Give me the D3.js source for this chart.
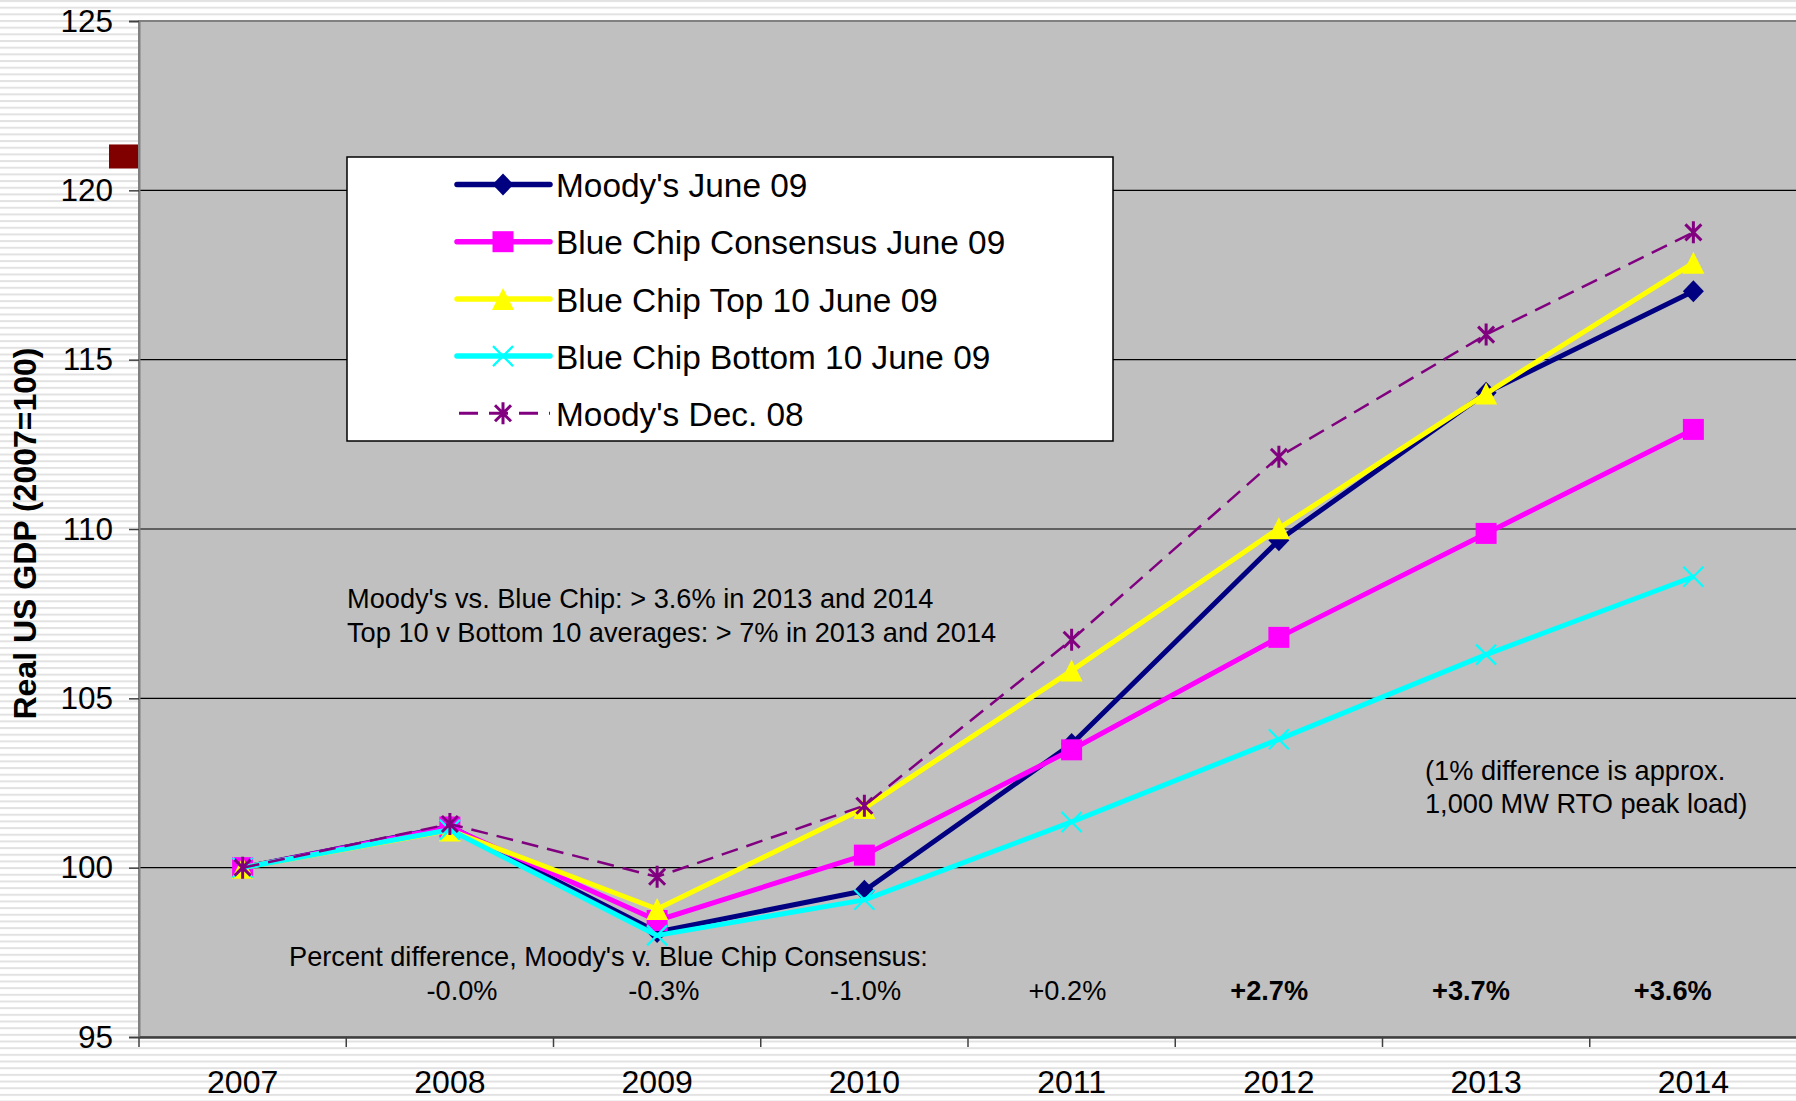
<!DOCTYPE html>
<html>
<head>
<meta charset="utf-8">
<script src="https://cdn.jsdelivr.net/npm/d3@7"></script>
<style>
  body { margin: 0; background: #fff; }
  svg { display: block; font-family: "Liberation Sans", Arial, sans-serif; }
</style>
</head>
<body>
<script>
// chart data
const years = ['2007', '2008', '2009', '2010', '2011', '2012', '2013', '2014']
const moodysJune09 = [100, 101.22, 98.1, 99.32, 103.65, 109.67, 114.02, 117.02]
const blueChipConsensus = [100, 101.2, 98.44, 100.37, 103.48, 106.8, 109.87, 112.94]
const blueChipTop10 = [100, 101.1, 98.78, 101.76, 105.82, 110.02, 114.0, 117.86]
const blueChipBottom10 = [100, 101.12, 98.0, 99.05, 101.35, 103.79, 106.29, 108.59]
const moodysDec08 = [100, 101.29, 99.73, 101.83, 106.73, 112.13, 115.74, 118.76]
const yTicks = [95, 100, 105, 110, 115, 120, 125]
const pctYears = ['2008', '2009', '2010', '2011', '2012', '2013', '2014']
const pctLabels = ['-0.0%', '-0.3%', '-1.0%', '+0.2%', '+2.7%', '+3.7%', '+3.6%']
const pctBold = [false, false, false, false, true, true, true]

const series = [
  { name: "Moody's June 09", values: moodysJune09, color: '#000080', width: 5, dash: null, marker: 'diamond' },
  { name: 'Blue Chip Consensus June 09', values: blueChipConsensus, color: '#ff00ff', width: 5, dash: null, marker: 'square' },
  { name: 'Blue Chip Top 10 June 09', values: blueChipTop10, color: '#ffff00', width: 5, dash: null, marker: 'triangle' },
  { name: 'Blue Chip Bottom 10 June 09', values: blueChipBottom10, color: '#00ffff', width: 5, dash: null, marker: 'cross' },
  { name: "Moody's Dec. 08", values: moodysDec08, color: '#800080', width: 2.5, dash: '17,9', marker: 'star' }
]

const width = 1796, height = 1101
const plotLeft = 139, plotRight = 1797, plotTop = 21, plotBottom = 1037

let svg = d3.select('body').append('svg')
  .attr('width', width)
  .attr('height', height)

// striped page background
let defs = svg.append('defs')
let pat = defs.append('pattern')
  .attr('id', 'stripes')
  .attr('patternUnits', 'userSpaceOnUse')
  .attr('width', 10)
  .attr('height', 6.67)
pat.append('rect').attr('width', 10).attr('height', 6.67).attr('fill', '#ffffff')
pat.append('rect').attr('y', 0).attr('width', 10).attr('height', 2).attr('fill', '#e2e2e2')

svg.append('rect')
  .attr('width', width)
  .attr('height', height)
  .style('fill', 'url(#stripes)')

let x = d3.scaleBand().domain(years).range([plotLeft, plotRight]).padding(0)
let y = d3.scaleLinear().domain([95, 125]).range([plotBottom, plotTop])
const cx = d => x(d) + x.bandwidth() / 2

// plot area
svg.append('rect')
  .attr('x', plotLeft)
  .attr('y', plotTop)
  .attr('width', plotRight - plotLeft)
  .attr('height', plotBottom - plotTop)
  .attr('fill', '#c0c0c0')
  .attr('stroke', '#808080')
  .attr('stroke-width', 2)

// gridlines
svg.append('g')
  .selectAll('line')
  .data(yTicks.filter(t => t > 95 && t < 125))
  .join('line')
  .attr('x1', plotLeft).attr('x2', plotRight)
  .attr('y1', d => y(d)).attr('y2', d => y(d))
  .attr('stroke', '#000').attr('stroke-width', 1.2)

// y axis
let yAxis = svg.append('g')
  .attr('transform', `translate(${plotLeft},0)`)
  .call(d3.axisLeft(y).tickValues(yTicks).tickSize(10).tickPadding(16))
yAxis.select('.domain').attr('stroke', '#808080').attr('stroke-width', 2)
yAxis.selectAll('.tick line').attr('stroke', '#404040').attr('stroke-width', 1.5)
yAxis.selectAll('.tick text')
  .attr('font-size', 31.5)
  .attr('font-family', '"Liberation Sans", Arial, sans-serif')
  .attr('fill', '#000')

// x axis
let xAxis = svg.append('g')
  .attr('transform', `translate(0,${plotBottom})`)
  .call(d3.axisBottom(x).tickSize(0).tickPadding(33))
xAxis.select('.domain').attr('stroke', '#404040').attr('stroke-width', 2.5)
xAxis.selectAll('.tick text')
  .attr('font-size', 32)
  .attr('font-family', '"Liberation Sans", Arial, sans-serif')
  .attr('fill', '#000')
// category boundary ticks
svg.append('g')
  .selectAll('line')
  .data(years)
  .join('line')
  .attr('x1', d => x(d)).attr('x2', d => x(d))
  .attr('y1', plotBottom).attr('y2', plotBottom + 10)
  .attr('stroke', '#404040').attr('stroke-width', 1.5)

// stray dark red box left of the axis
svg.append('rect')
  .attr('x', 109)
  .attr('y', y(121) - 12)
  .attr('width', 29)
  .attr('height', 24)
  .attr('fill', '#800000')

// y axis title
svg.append('text')
  .attr('transform', `translate(36,${(343 + 724) / 2}) rotate(-90)`)
  .attr('text-anchor', 'middle')
  .attr('font-size', 32)
  .attr('font-weight', 'bold')
  .text('Real US GDP (2007=100)')

function drawMarker(g, type, color) {
  if (type === 'diamond') {
    g.append('path').attr('d', 'M0,-11L10.5,0L0,11L-10.5,0Z').attr('fill', color)
  } else if (type === 'square') {
    g.append('rect').attr('x', -10.5).attr('y', -10.5).attr('width', 21).attr('height', 21).attr('fill', color)
  } else if (type === 'triangle') {
    g.append('path').attr('d', 'M0,-11L11,11L-11,11Z').attr('fill', color)
  } else if (type === 'cross') {
    g.append('path').attr('d', 'M-10,-10L10,10M10,-10L-10,10').attr('stroke', color).attr('stroke-width', 2.2).attr('fill', 'none')
  } else if (type === 'star') {
    g.append('path').attr('d', 'M-8,-8L8,8M8,-8L-8,8M0,-11L0,11').attr('stroke', color).attr('stroke-width', 3).attr('fill', 'none')
  }
}

let line = d3.line().x((d, i) => cx(years[i])).y(d => y(d))

let seriesGroup = svg.append('g').attr('id', 'series')
series.forEach(s => {
  let g = seriesGroup.append('g')
  g.append('path')
    .attr('d', line(s.values))
    .attr('fill', 'none')
    .attr('stroke', s.color)
    .attr('stroke-width', s.width)
    .attr('stroke-dasharray', s.dash)
    .attr('stroke-linejoin', 'round')
  s.values.forEach((v, i) => {
    let m = g.append('g').attr('transform', `translate(${cx(years[i])},${y(v)})`)
    drawMarker(m, s.marker, s.color)
  })
})

// legend
let legend = svg.append('g').attr('id', 'legend')
legend.append('rect')
  .attr('x', 347).attr('y', 157)
  .attr('width', 766).attr('height', 284)
  .attr('fill', '#fff')
  .attr('stroke', '#000')
  .attr('stroke-width', 1.5)
series.forEach((s, i) => {
  let ry = 184.5 + i * 57.2
  legend.append('line')
    .attr('x1', s.dash ? 459 : 457).attr('x2', 550)
    .attr('y1', ry).attr('y2', ry)
    .attr('stroke', s.color)
    .attr('stroke-width', s.dash ? 3 : 5.5)
    .attr('stroke-linecap', s.dash ? 'butt' : 'round')
    .attr('stroke-dasharray', s.dash ? '19,11' : null)
  let m = legend.append('g').attr('transform', `translate(503,${ry})`)
  drawMarker(m, s.marker, s.color)
  legend.append('text')
    .attr('x', 556).attr('y', ry)
    .attr('dy', '0.38em')
    .attr('font-size', 33.4)
    .text(s.name)
})

// notes
let notes = svg.append('g').attr('id', 'notes').attr('font-size', 27.2)
notes.append('text').attr('x', 347).attr('y', 608).text("Moody's vs. Blue Chip: > 3.6% in 2013 and 2014")
notes.append('text').attr('x', 347).attr('y', 641.5).text('Top 10 v Bottom 10 averages: > 7% in 2013 and 2014')
notes.append('text').attr('x', 1425).attr('y', 780).text('(1% difference is approx.')
notes.append('text').attr('x', 1425).attr('y', 813).text('1,000 MW RTO peak load)')
notes.append('text').attr('x', 289).attr('y', 966).text("Percent difference, Moody's v. Blue Chip Consensus:")

// percent difference row, on tab stops slightly left of the category centres
notes.selectAll('.pct')
  .data(pctLabels)
  .join('text')
  .attr('class', 'pct')
  .attr('x', (d, i) => 462 + i * 201.8)
  .attr('y', 1000)
  .attr('text-anchor', 'middle')
  .attr('font-weight', (d, i) => pctBold[i] ? 'bold' : 'normal')
  .text(d => d)
</script>
</body>
</html>
